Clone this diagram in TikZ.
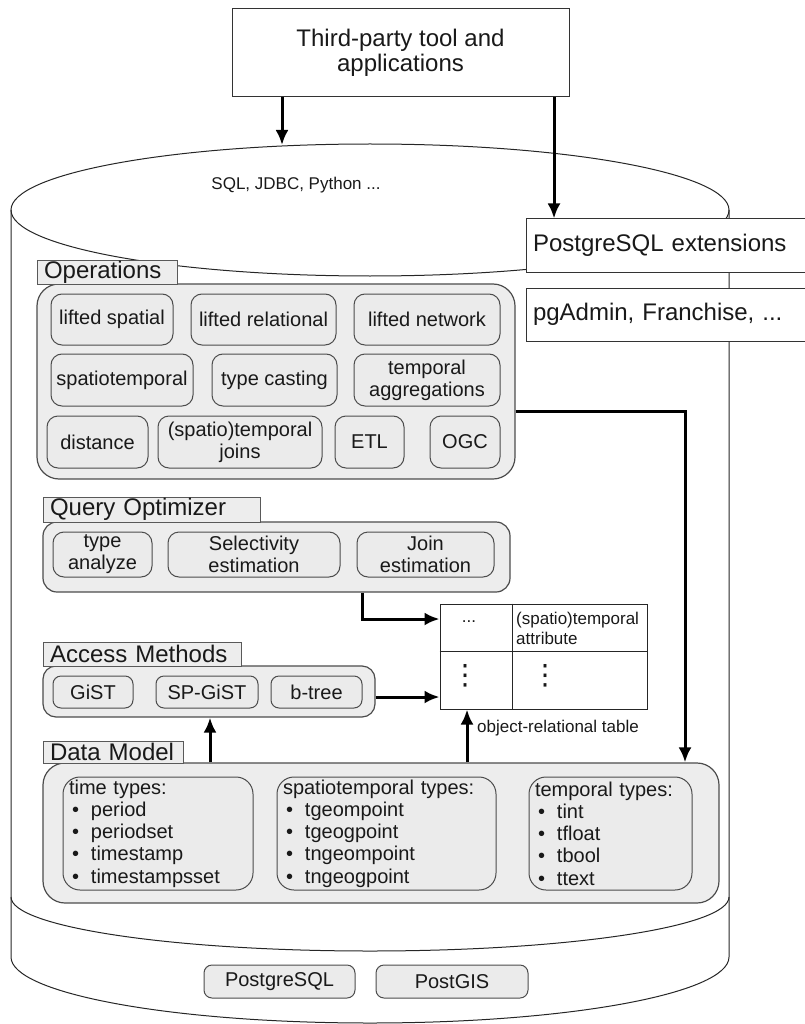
\documentclass[tikz,border=0pt]{standalone}
\usepackage{fontspec}
\setmainfont{Liberation Sans}
\newfontfamily\dvsans{DejaVu Sans}
\usetikzlibrary{arrows.meta,calc}
\begin{document}
\begin{tikzpicture}[x=1pt,y=-1pt,
  cyl/.style={draw=black!85, line width=1pt},
  wbox/.style={draw=black!80, fill=white, line width=1pt, inner sep=0pt, text=black!90},
  grp/.style={draw=black!70, fill=black!7, line width=1.2pt, inner sep=0pt},
  itm/.style={draw=black!70, fill=black!8, line width=1pt, rounded corners=11pt, inner sep=0pt,
    font=\fontsize{20}{22}\selectfont, align=center, text=black!90},
  lbl/.style={draw=black!65, fill=black!7, line width=1pt, inner xsep=7pt, inner ysep=0pt,
    font=\fontsize{24}{26}\selectfont, align=left, text=black!90},
  lst/.style={draw=black!70, fill=black!8, line width=1pt, rounded corners=17pt, inner xsep=6pt, inner ysep=0pt,
    font=\fontsize{20}{22.3}\selectfont, align=left, text=black!90},
  small/.style={font=\fontsize{17}{19.5}\selectfont, text=black!90, inner sep=0pt},
  vdot/.style={font=\dvsans\fontsize{28}{28}\selectfont, inner sep=0pt, text=black!90},
  arr/.style={line width=3pt, draw=black, -{Latex[length=15pt,width=13pt]}},
]
\useasboundingbox (0,0) rectangle (804,1024);

% cylinder
\draw[cyl] (370,210) ellipse [x radius=359pt, y radius=66pt];
\draw[cyl] (11,210) -- (11,957) arc[start angle=180,end angle=360,x radius=359pt,y radius=66pt] -- (729,210);
\draw[cyl] (11,897) arc[start angle=180,end angle=360,x radius=359pt,y radius=54pt];

% top box and side boxes
\node[wbox, minimum width=337pt, minimum height=88pt, align=center,
  font=\fontsize{24}{25}\selectfont] (top) at (400.5,53) {Third-party tool and\\applications};
\node[wbox, minimum height=53pt, inner xsep=7pt, text width=280pt, align=left,
  font=\fontsize{24}{26}\selectfont] (pgext) at (673,245.5) {PostgreSQL extensions};
\node[wbox, minimum height=53pt, inner xsep=7pt, text width=280pt, align=left,
  font=\fontsize{24}{26}\selectfont] (pgadm) at (673,314.5) {pgAdmin, Franchise, ...};

\node[small] (sql) at (296,185) {SQL, JDBC, Python ...};

% Operations
\node[grp, rounded corners=22pt, minimum width=478pt, minimum height=195pt] (opsg) at (276,381.5) {};
\node[lbl, minimum height=24pt, text width=126pt] (opsl) at (107,272) {Operations};
\node[itm, minimum width=122pt, minimum height=51pt] (ls) at (112,319.5) {lifted spatial};
\node[itm, minimum width=145pt, minimum height=51pt] (lr) at (263.5,319.5) {lifted relational};
\node[itm, minimum width=146pt, minimum height=51pt] (ln) at (427,319.5) {lifted network};
\node[itm, minimum width=142pt, minimum height=52pt] (st) at (122,380) {spatiotemporal};
\node[itm, minimum width=125pt, minimum height=52pt] (tc) at (274.5,380) {type casting};
\node[itm, minimum width=146pt, minimum height=52pt] (ta) at (427,380) {temporal\\aggregations};
\node[itm, minimum width=101pt, minimum height=52pt] (di) at (97.5,442) {distance};
\node[itm, minimum width=164pt, minimum height=52pt] (sj) at (240,442) {(spatio)temporal\\joins};
\node[itm, minimum width=69pt, minimum height=52pt] (etl) at (369.5,442) {ETL};
\node[itm, minimum width=70pt, minimum height=52pt] (ogc) at (465,442) {OGC};

% Query Optimizer
\node[grp, rounded corners=14pt, minimum width=467pt, minimum height=70pt] (qog) at (276.5,557) {};
\node[lbl, minimum height=25pt, text width=203pt] (qol) at (151.5,509.5) {Query Optimizer};
\node[itm, minimum width=99pt, minimum height=45pt] (tya) at (102.5,554.5) {type\\analyze};
\node[itm, minimum width=172pt, minimum height=45pt] (sel) at (254,554.5) {Selectivity\\estimation};
\node[itm, minimum width=137pt, minimum height=45pt] (joi) at (425.5,554.5) {Join\\estimation};

% table
\node[draw=black!85, line width=1pt, fill=white, minimum width=207pt, minimum height=105pt, inner sep=0pt] (tbl) at (543.5,656.5) {};
\coordinate (tx) at (512,651);
\draw[black!85, line width=1pt] (tbl.north -| tx) -- (tbl.south -| tx);
\draw[black!85, line width=1pt] (tbl.west |- tx) -- (tbl.east |- tx);
\node[small] (tdots) at (469,622) {...};
\node[small, anchor=west, align=left] (tattr) at (516,628.5) {(spatio)temporal\\attribute};
\node[vdot] (vd1) at (465,676) {⋮};
\node[vdot] (vd2) at (545,676) {⋮};
\node[small, anchor=west] (ort) at (477,728) {object-relational table};

% Access Methods
\node[grp, rounded corners=13pt, minimum width=332pt, minimum height=51pt] (amg) at (209,691.5) {};
\node[lbl, minimum height=24pt, text width=184pt] (aml) at (142,654) {Access Methods};
\node[itm, minimum width=80pt, minimum height=32pt, rounded corners=8pt] (gist) at (93,692) {GiST};
\node[itm, minimum width=102pt, minimum height=32pt, rounded corners=8pt] (spg) at (207,692) {SP-GiST};
\node[itm, minimum width=91pt, minimum height=32pt, rounded corners=8pt] (btr) at (316.5,692) {b-tree};

% Data Model
\node[grp, rounded corners=22pt, minimum width=676pt, minimum height=140pt] (dmg) at (381,833) {};
\node[lbl, minimum height=22pt, text width=126pt] (dml) at (113,752) {Data Model};
\node[lst, minimum height=113pt, text width=178pt] (tt) at (158,833.5)
  {time types:\\\hspace*{3pt}\makebox[19pt][l]{•}period\\\hspace*{3pt}\makebox[19pt][l]{•}periodset\\\hspace*{3pt}\makebox[19pt][l]{•}timestamp\\\hspace*{3pt}\makebox[19pt][l]{•}timestampsset};
\node[lst, minimum height=113pt, text width=207pt] (stt) at (386.5,833.5)
  {spatiotemporal types:\\\hspace*{3pt}\makebox[19pt][l]{•}tgeompoint\\\hspace*{3pt}\makebox[19pt][l]{•}tgeogpoint\\\hspace*{3pt}\makebox[19pt][l]{•}tngeompoint\\\hspace*{3pt}\makebox[19pt][l]{•}tngeogpoint};
\node[lst, minimum height=113pt, text width=151pt] (tmp) at (610.5,833.5)
  {temporal types:\\\hspace*{3pt}\makebox[19pt][l]{•}tint\\\hspace*{3pt}\makebox[19pt][l]{•}tfloat\\\hspace*{3pt}\makebox[19pt][l]{•}tbool\\\hspace*{3pt}\makebox[19pt][l]{•}ttext};

% bottom
\node[itm, minimum width=151pt, minimum height=33pt, rounded corners=8pt] (pg) at (279.5,981.5) {PostgreSQL};
\node[itm, minimum width=152pt, minimum height=33pt, rounded corners=8pt] (pgis) at (452,981.5) {PostGIS};

% connectors
\coordinate (c1) at (282,145);
\draw[arr] (top.south -| c1) -- (c1);
\coordinate (c2) at (554,0);
\draw[arr] (top.south -| c2) -- (pgext.north -| c2);
\coordinate (c3) at (685,411);
\draw[arr] (opsg.east |- c3) -| (dmg.north -| c3);
\coordinate (c4) at (362,619);
\draw[arr] (qog.south -| c4) |- (tbl.west |- c4);
\coordinate (c5) at (0,697);
\draw[arr] (amg.east |- c5) -- (tbl.west |- c5);
\coordinate (c6) at (210,0);
\draw[arr] (dmg.north -| c6) -- (amg.south -| c6);
\coordinate (c7) at (467,0);
\draw[arr] (dmg.north -| c7) -- (tbl.south -| c7);
\end{tikzpicture}
\end{document}
